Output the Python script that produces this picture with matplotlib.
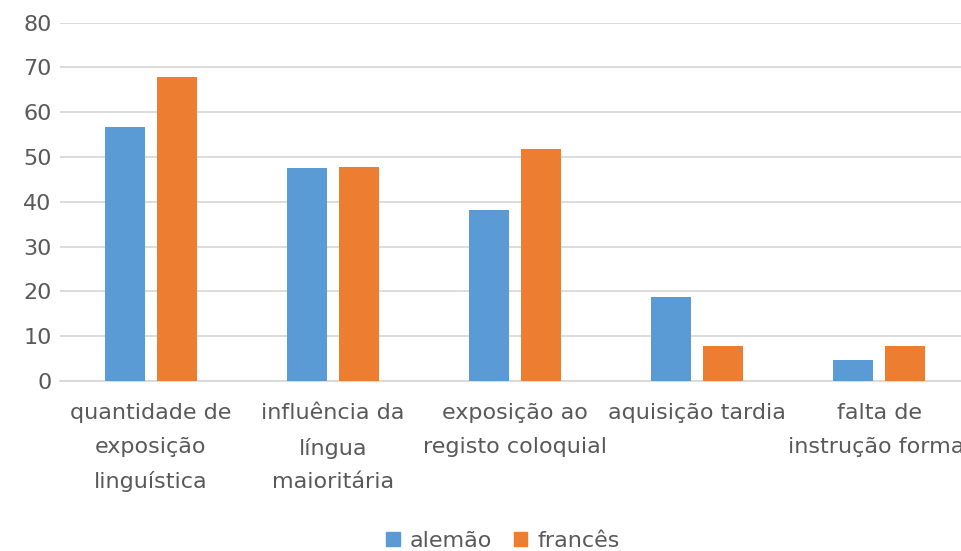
import matplotlib
matplotlib.use("Agg")
import matplotlib.pyplot as plt
import numpy as np
from matplotlib.patches import Patch

categories = ["quantidade de\nexposição\nlinguística",
              "influência da\nlíngua\nmaioritária",
              "exposição ao\nregisto coloquial",
              "aquisição tardia",
              "falta de\ninstrução formal"]
alemao = [56.8, 47.6, 38.2, 18.8, 4.6]
frances = [67.9, 47.8, 51.8, 7.9, 7.9]
series_names = ["alemão", "francês"]
yticks = [0, 10, 20, 30, 40, 50, 60, 70, 80]

plt.rcParams['font.family'] = ['DejaVu Sans']

W, H = 961, 551
fig = plt.figure(figsize=(W/100, H/100), dpi=100)
left, right = 60/W, 970/W
bottom, top = 1 - 381/H, 1 - 22.7/H
ax = fig.add_axes([left, bottom, right - left, top - bottom])

x = np.arange(len(categories))
w = 0.22
off = 0.143
blue = "#5B9BD5"
orange = "#ED7D31"
ax.bar(x - off, alemao, w, color=blue, zorder=3)
ax.bar(x + off, frances, w, color=orange, zorder=3)

ax.set_xlim(-0.5, len(categories) - 0.5)
ax.set_ylim(0, 80)
ax.set_yticks(yticks)
ax.grid(axis='y', color='#d9d9d9', linewidth=1.3, zorder=0)
for s in ['top', 'right', 'left']:
    ax.spines[s].set_visible(False)
ax.spines['bottom'].set_color('#d9d9d9')
ax.spines['bottom'].set_linewidth(1.3)
ax.tick_params(axis='both', length=0, colors='#595959', labelsize=16)
ax.tick_params(axis='y', pad=6)
ax.set_xticks(x)
ax.set_xticklabels(categories, linespacing=1.85)
ax.tick_params(axis='x', pad=16)

handles = [Patch(color=blue), Patch(color=orange)]
fig.legend(handles, series_names, loc='center', bbox_to_anchor=(503/W, 1 - 541/H),
           ncol=2, frameon=False, fontsize=16, handlelength=0.6, handleheight=0.6,
           handletextpad=0.45, columnspacing=1.0, labelcolor='#595959')

fig.savefig("out.png", dpi=100)
